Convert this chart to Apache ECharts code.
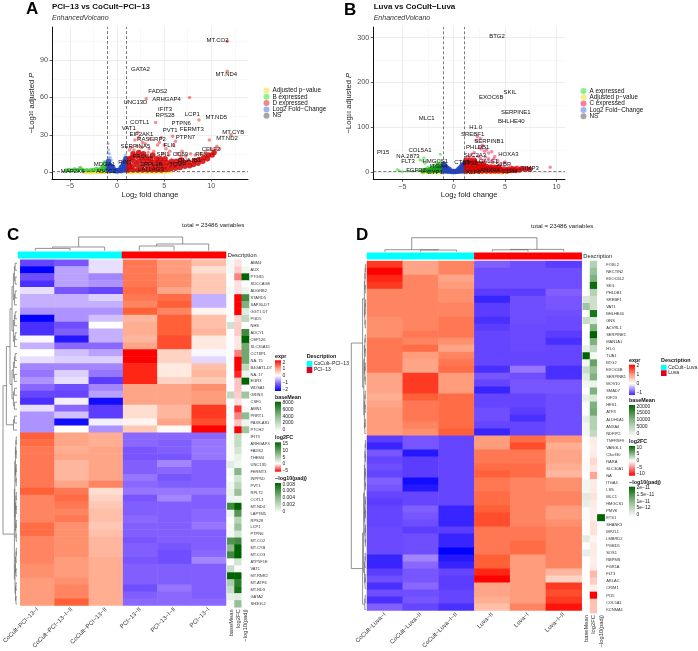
<!DOCTYPE html>
<html><head><meta charset="utf-8">
<style>html,body{margin:0;padding:0;background:#fff}#c{width:698px;height:651px}</style>
<script src="https://cdn.jsdelivr.net/npm/echarts@6/dist/echarts.min.js"></script>
</head><body><div id="c"></div>
<script>
// ---------- volcano A data
const aYellow=[[-3.4,.6],[-3.1,.9],[-2.8,.5],[-2.6,1],[-2.3,.7],[-2.1,1.1],[-1.8,.6],[-1.6,.9],[-1.3,.7],[-1.1,1.1],[1.2,.8],[1.6,.5],[2,1],[2.4,.6],[2.8,1.1],[3.2,.7],[3.6,1],[4,.6],[4.4,1],[4.8,.8],[5.2,1.1],[5.6,1]];
const aGreen=[[-5.4,1.6],[-5.1,2],[-4.8,1.6],[-4.5,2.5],[-4.2,1.8],[-3.9,3.4],[-3.6,1.8],[-3.2,1.9],[-2.8,1.8],[-2.5,2],[-2.2,2.8],[-1.9,2.2],[-1.7,3],[-1.5,5],[-1.4,3.4],[-1.3,8],[-1.2,2.4],[-1.1,4.5],[-1.05,6]];
const aBlueDense=[[-.95,2],[-.95,6],[-.9,9],[-.8,3],[-.8,6],[-.65,2],[-.65,5],[-.5,2],[-.45,4],[-.3,1.8],[-.15,1.6],[0,1.5],[.15,1.6],[.3,1.8],[.4,2],[.45,4],[.55,2],[.6,5],[.7,2.5],[.7,7],[.8,4],[.85,9],[.95,2],[.95,6],[.95,11]];
const aBlueSparse=[[-.95,23],[-.9,18],[-.95,15.5],[-.8,15],[-.7,12],[-.6,10],[-.85,12],[.8,12],[.7,10],[.9,14],[.6,8]];
const aRedDense=[[1.2,2],[1.3,5],[1.2,8],[1.3,11],[1.7,2],[1.6,5],[1.8,9],[1.6,12],[1.7,15],[2.2,2],[2.1,6],[2.3,9],[2.1,13],[2.3,16],[2.7,2],[2.6,5],[2.8,9],[2.6,12],[2.8,15],[3.2,2],[3.1,6],[3.3,9],[3.1,12],[3.7,2],[3.6,5],[3.8,8],[3.6,11],[3.8,14],[4.2,2],[4.1,5],[4.3,8],[4.2,11],[4.7,2],[4.6,5],[4.8,8],[4.6,11],[5.2,2.5],[5.1,5],[5.3,8],[5.1,11],[5.7,3],[5.6,6],[5.8,9],[6.2,3.5],[6.1,6],[6.3,9],[6.7,4],[6.6,7],[6.8,10],[7.2,5],[7.1,8],[7.7,5.5],[7.6,8.5],[8.1,6.5],[8.2,9.5],[8.6,7.5],[8.7,10.5],[9.1,9],[9.2,12],[9.6,11],[9.7,14],[10.1,14],[10.3,16]];
const aRedSparse=[[2.2,32],[3.1,59],[4.1,40],[7.7,60],[8.7,42],[11.7,81],[11.7,105],[9.8,26],[10.6,21],[10.9,19],[12.1,30],[5.9,29],[6.2,25],[4.7,28],[4.3,22],[2.3,28],[3.5,27],[1.9,26],[2.7,24],[5,22],[6,22],[1.3,18],[1.5,20],[2.1,21],[2.6,20],[3,23],[3.4,19],[3.9,17],[4.5,24],[5.2,19],[5.6,17],[6.4,15],[6.9,17],[7.3,13],[7.8,15],[8.3,14],[8.9,15],[9.4,16],[10,19],[4.9,15],[3.3,16],[5.5,14],[6.8,13],[1.8,18],[10.5,18.5]];
const aNS=[[-.8,.5],[-.5,.8],[-.2,.4],[.1,.7],[.4,.5],[.7,.9]];
const aThreshold=1.3;
const aLabels=[['MT.CO2',10.67,106],['GATA2',2.48,82.5],['MT.ND4',11.6,78.5],['FADS2',4.33,64.7],['ARHGAP4',5.25,58.8],['UNC13D',1.95,56.1],['IFIT3',5.1,50.5],['RPS28',5.1,45.7],['LCP1',7.98,46.3],['MT.ND5',10.53,43.9],['COTL1',2.41,40.1],['PTPN6',6.81,39.3],['VAT1',1.24,35.3],['FERMT3',7.94,34.5],['PVT1',5.64,33.5],['MT.CYB',12.34,31.9],['EIF2AK1',2.59,30.3],['PTPN7',7.27,28.4],['MT.ND2',11.67,27.3],['RASGRP2',3.65,26.3],['FLI1',5.57,21.5],['SERPINA5',1.95,20.7],['CELF2',9.97,18.3],['FRCOL',2.73,13.2],['SPI1',4.89,14.5],['CD69',6.74,14.5],['RFK',8.94,14.5],['DNAJB1',7.7,10],['RIN3',.85,8.1],['SPPL2B',3.65,6.8],['MDGA1',-1.35,6.5],['TCMP',6.45,6.8],['MAP2K6',-4.71,1.2],['ABCC2',-1.17,1.2],['LAT',2.8,2.8],['LAG3',4.15,2.8]];
// ---------- volcano B data
const bYellow=[[-3,.6],[-2.5,1],[-2,.5],[-1.5,.8],[1.2,1],[1.7,.5],[2.2,1.5],[2.7,.7],[3.2,1.5],[3.7,.6],[4.2,1.2],[4.7,.8],[5.2,1.2]];
const bGreenDense=[[-2.5,3],[-2.3,6],[-2.1,3],[-2,10],[-1.9,6],[-1.7,3],[-1.7,11],[-1.6,7],[-1.5,15],[-1.4,4],[-1.35,10],[-1.2,6],[-1.2,14],[-1.1,3],[-1.05,9],[-1.05,18],[-3,3],[-2.7,5]];
const bGreenSparse=[[-5.5,6],[-5.3,4],[-5,2],[-3.3,28],[-2.9,32],[-3.1,26],[-1.3,40],[-2.8,20],[-2.5,12],[-2.2,14],[-1.7,22],[-1.3,24],[-4.5,3],[-4,2.5],[-3.5,4]];
const bBlueDense=[[-.95,3],[-.95,10],[-.95,18],[-.8,5],[-.8,13],[-.65,3],[-.65,9],[-.5,3],[-.45,7],[-.3,2.5],[-.15,2],[0,1.8],[.15,2],[.3,2.5],[.45,3],[.5,7],[.65,3],[.65,10],[.8,5],[.8,14],[.95,3],[.95,10],[.95,18]];
const bRedDense=[[1.2,3],[1.3,9],[1.2,15],[1.3,21],[1.2,27],[1.6,3],[1.7,8],[1.6,14],[1.7,20],[1.6,27],[2,3],[2.1,9],[2,15],[2.1,21],[2,26],[2.4,3],[2.5,8],[2.4,13],[2.5,19],[2.8,3],[2.9,8],[2.8,13],[2.9,18],[3.2,3],[3.3,8],[3.2,13],[3.6,3],[3.7,8],[3.6,12],[4,3],[4.1,7],[4,11],[4.4,3],[4.5,7],[4.4,11],[4.8,3],[4.9,7],[5.2,3],[5.3,7],[5.6,4],[5.7,8],[6,4],[6.1,8],[6.4,5],[6.6,8],[7,7],[7.4,7]];
const bRedSparse=[[9.4,11],[5,23],[4.9,21],[4,35],[3.2,50],[3,47],[3.7,46],[2.7,52],[2.2,70],[2.5,55],[2.6,75],[2.3,80],[1.5,35],[1.7,40],[2,44],[2.8,60],[3.4,43],[3.9,30],[4.3,26],[3.4,30],[2.9,27],[3.8,22],[4.9,12],[2.4,36],[1.9,33],[3.1,34],[2.6,32],[3.6,24],[1.3,32],[4.5,18],[5.5,14],[6.2,12],[7.1,10]];
const bNS=[[-.8,1],[-.5,.6],[-.2,.8],[.2,.6],[.5,1],[.8,.7]];
const bThreshold=3;
const bLabels=[['BTG2',4.22,302],['SKIL',5.48,177],['EXOC6B',3.66,166],['SERPINE1',6.04,133.6],['MLC1',-2.63,121],['BHLHE40',5.61,113.5],['H1.0',2.14,99.4],['SREBF1',1.85,83.8],['SERPINB1',3.44,69],['PHLDB1',2.34,54.9],['PI15',-6.88,45.2],['COL5A1',-3.28,48.2],['HOXA3',5.32,39.3],['NA.2873',-4.45,34.8],['SLC2A3',2.07,38.6],['FLT3',-4.45,23.7],['HMGCS1',-1.79,24.5],['CTSD',.84,22.3],['LGALS1',3.21,25],['S1BP',4.83,17.8],['ITGA4',-1.46,12.5],['TIMP3',7.43,8.9],['FGFR2',-3.67,5],['CYP1',-1.82,-.9],['CD44',5.48,2.2],['ETS1',1.59,20],['ANXA4',3.53,5],['KLF6',1.91,.7]];
// ---------- heatmap C
const samplesC=['CoCult−PCI−13−I','CoCult−PCI−13−I−II','CoCult−PCI−13−II','PCI−13−II','PCI−13−I−II','PCI−13−I'];
const groupsC=[0,0,0,1,1,1];
const genesC=['ABM4','AUX','PTGS5','SDCCAG8','ADGRB2','STARD5','SAP30-DT','GGT1 DT','PGD5','NHS','ADCY1','CEP126','SLC35A15','CCT8P1','NA. 75','B4GAT1-DT','NA. 17','EGR3','WDSA1','GRIN3','CSF0','AMN1','PRRT1','PAX8-AS1','PTCH2','IFIT3','ARHGAP4','FADS2','THEM4','UNC13D','FERMT3','INPP5D','PVT1','RPL72','COTL1','MT.ND4','LAPTM5','RPS28','LCP1','PTPN6','MT.CO2','MT.CYB','MT.CO3','ATP5F1E','VAT1','MT.RNR2','MT.ATP6','MT.ND3','GATA2','SH3GL2'];
const heatC=[[-1.4,-1.2,-.2,1.3,1,.6],[-2,-.6,-.2,1.3,1,.3],[-1.3,-.6,-.8,1.3,1.1,.5],[-1.6,-.6,-.7,1.3,1.1,.5],[-.2,-1.2,-1.4,1.4,.9,.5],[-.5,-.5,-.3,1.3,1.4,-.5],[-.5,-.5,-.5,1.2,1.5,-.5],[-.7,-.7,-.7,1.5,1.2,.1],[-2,-.7,-.4,.7,1.5,.6],[-1.6,-1.3,0,.8,1.5,.6],[-1.6,-1.1,-.5,.8,1.5,.7],[-.05,-1.8,-.5,.7,1.6,.2],[-.5,-1,-1,.9,1.6,.2],[0,-.4,-.6,2,.4,-.05],[-.2,-.3,-.3,2,.4,-.25],[-.8,-.8,-.8,1.8,.2,.6],[-.9,-.3,-.9,1.8,.2,.7],[-.7,-.2,-1.5,1.8,.4,.5],[-1,-1.3,-.8,.9,.9,1.1],[-1.4,-1.4,-.6,.9,.9,1],[-1.6,-.1,-1.9,.9,.9,1],[-.2,-1,-1.5,.3,.7,1.7],[-.7,-.4,-1.5,.3,.7,1.7],[-.7,-1.9,-.1,.1,.9,1.6],[-.7,0,-.7,.5,.05,2],
[1.5,.9,.8,-1,-1,-1],[1.4,.9,.8,-1,-1.1,-.9],[1.3,.8,.9,-1.2,-1.1,-.9],[1.3,.9,.9,-1.2,-1.2,-.9],[1.3,.7,.9,-1.1,-.8,-1.1],[1.3,.7,.9,-1.1,-1,-1.1],[1.3,.7,.9,-.9,-1.2,-1.1],[1.3,.9,1.2,-1,-1.1,-1.1],[1.5,1.3,.3,-.9,-.9,-.9],[1.2,1.4,.4,-1.2,-.8,-1.1],[1.2,1.3,.5,-1.1,-1.1,-1.1],[1.2,1.2,.6,-1.1,-1.1,-1],[1.2,1.3,.6,-1,-1.1,-1],[1.4,1.1,.5,-1.1,-1.1,-.9],[1.4,1.1,.6,-1.1,-1.1,-1.1],[1.2,1.1,.7,-1.2,-1.1,-1.1],[1.2,1.1,.7,-1.1,-1.2,-1.1],[1.2,1.1,.7,-1.1,-1.3,-1],[1.2,1,.8,-1.2,-1.3,-.8],[1.1,1,.8,-1.1,-1.1,-1.1],[1.1,1,.8,-1.1,-1.1,-1.1],[1,1.1,.8,-1.1,-1.1,-1.1],[1,1.2,.8,-1.3,-.9,-1.1],[1,1.2,.8,-1.1,-1,-1.1],[1,1.5,.8,-1,-1,-1]];
const baseMeanC=[300,300,100,100,300,100,100,100,100,1500,100,100,100,100,100,100,100,100,100,2000,100,100,100,100,100,200,200,200,200,1000,200,100,400,600,500,6000,500,0,200,300,5500,3500,6000,0,1800,8000,2600,1800,800,200];
const log2FCC=[-.6,-1,-2.5,-.6,-.6,-5,-5,-5,-.8,-1,-1,-.5,-.5,-2.5,-5,-5,-4.3,-1.2,-1.2,-1,-.6,-4,-2.5,-1.2,-5,4,4,3,1.5,1,8,3,4.5,7,1,15,11,5,7,3,12,15,15,3,.5,15,13,14,2,7];
const padjC=[0,.0004,.008,0,.0006,.006,.004,.001,.002,0,.006,.008,.0045,.0045,.0045,.002,.0005,.008,0,.003,0,.0003,.0035,.0005,.003,0,0,0,0,0,0,0,0,0,0,0,0,0,0,0,0,0,0,0,0,0,0,0,0,0];
// ---------- heatmap D
const samplesD=['CoCult−Luva−I','CoCult−Luva−II','CoCult−Luva−I−II','Luva−II','Luva−I','Luva−I−II'];
const groupsD=[0,0,0,1,1,1];
const genesD=['FOSL2','NECTIN2','EXOC6L2','SKIL','PHLDB1','SREBF1','VAT1','BHLHE40','GNS','ACVRL1','SERPINE1','MAN1A1','H1.0','TUA1','BTG2','EXOC6B','SERPINB1','MOV10','SMAD7','KIF23','HES1','ATF3','ALDH1A1','ANXA4','NDFIP2','TNFRSF9','VANGL1','C3orf30','RARA','SLC30A1','NA','ITGA4','LSS','MLC1','HMGCS1','PMVK','ETS1','SHANK3','MPZL1','LMBRD2','PGBD5','SOS1','RBPMS','FGR1A','FLT3','ARLAC','CRIM1','PI15','COL5A1','KCNMA1'];
const heatD=[[1.7,.9,1.2,-1.1,-1.3,-1.5],[2,.9,1.2,-1.3,-1.3,-1.3],[1.8,1.2,.9,-1.3,-1.3,-1.3],[1.7,1.2,1,-1.3,-1.3,-1.3],[1.2,1.2,1.1,-1.5,-1.5,-1.1],[1.2,1.2,1.1,-1.7,-1.3,-1.2],[1.2,1.2,1.2,-1.5,-1.3,-1.2],[1.2,1.2,1.2,-1.5,-1.3,-1.3],[1.1,1.2,1.3,-1.6,-1.3,-1.35],[1.1,1.2,1.3,-1.5,-1.35,-1.35],[1.1,1.3,1.3,-1.4,-1.35,-1.5],[1.3,1.2,1.1,-1.4,-1.35,-1.6],[1.3,1.4,.9,-1.4,-1.35,-1.4],[1.3,1,1.2,-1.4,-1.4,-1.4],[1.3,.9,1.3,-1.4,-1.4,-1.4],[1.3,.9,1.4,-1.6,-.9,-1.6],[.9,1.7,1,-1.2,-1.3,-1.6],[.9,1.7,1,-1.4,-1.2,-1.2],[.9,1.7,1,-1.7,-1.2,-1.2],[.8,1.5,1.4,-1.4,-1.4,-1.3],[.9,1.3,1.4,-1.4,-1.4,-1.3],[1,1.3,1.4,-1.3,-1.5,-1.3],[1,1.3,1.4,-1.3,-1.6,-1.3],[1,1.2,1.4,-1.4,-1.4,-1.3],[1,1.1,1.5,-1.7,-1.4,-1.3],
[-1.5,-1.2,-1.4,1,1.4,1.05],[-1.7,-1.2,-1.4,1,1.6,.8],[-1.2,-1.8,-1.4,1.3,1.3,.9],[-1.4,-1.5,-1.4,1.3,1.3,.9],[-1.3,-1.5,-1.4,1.4,1.4,.8],[-1.4,-1.5,-1.4,1.5,1.4,.7],[-1.1,-1.9,-1.4,1.3,1.2,1.1],[-1.2,-1.8,-1.4,1.3,1.2,1.1],[-1.4,-1.4,-1.4,1.4,1.2,1.2],[-1.5,-1.4,-1.4,1.4,1.2,1.2],[-1.4,-1.1,-1.7,1.5,1.2,1],[-1.4,-1.2,-1.7,1.6,1.2,1],[-1.4,-1.3,-1.7,1.6,1.2,1.1],[-1.35,-1.5,-1.5,1.3,1.3,1.2],[-1.35,-1.3,-1.7,1.3,1.3,1.2],[-1.35,-1.3,-1.7,1.3,1.4,1.2],[-1.35,-1.3,-2,1.3,1.4,1.2],[-1.7,-.8,-1.8,1.5,1,1.2],[-1.7,-1,-1.7,1.5,1,1.2],[-1.5,-1.2,-1.4,1.8,1,.7],[-1.3,-1.2,-1.5,2,1,.4],[-1.6,-1,-1.5,.9,1,1.7],[-1.3,-1.3,-1.4,.9,1,1.6],[-1.6,-1.2,-1.4,.8,1,1.7],[-1.1,-1.4,-1.6,.6,1.2,1.9]];
const baseMeanD=[0,0,0,0,0,3000,7500,0,4500,0,0,0,2000,20000,1000,4500,2500,1000,0,2000,500,0,2000,1000,1000,0,0,0,500,500,0,1000,1000,2500,2000,500,500,0,0,2500,0,2000,0,0,0,0,0,0,0,0];
const log2FCD=[3,4,5,9.5,3,2,2,9,1.5,5,10,5,2.5,.3,6,4,5,.8,5,1.5,5,5.5,3,3,2.5,-1,-.8,-1,-2,-1.2,-4.5,-1,-1,-1.5,-1,-.8,-.8,-1.5,-1.5,-.5,-1,-1,-.8,-1,-3.5,-2.5,-.8,-10,-3,-3];
const padjD=[0,0,0,0,0,0,0,0,0,0,0,0,0,0,0,0,0,0,0,0,0,0,0,0,0,0,0,0,0,0,0,0,0,0,0,0,2e-11,0,0,0,0,0,0,0,0,0,0,0,0,0];
const annNames=['baseMean','log2FC','−log10(padj)'];
// ---------- dendrograms: [height, left, right]; a number is a leaf
const colTreeC=[13.7,[3.7,[2.3,0,1],2],[6.7,[4.7,3,4],5]];
const colTreeD=[14,[2,0,[1.7,1,2]],[2.3,[1.9,3,4],5]];
const NUM_ROWS=50;
function bal(lo,hi,h){ if(lo===hi) return lo; const m=(lo+hi)>>1; return [h,bal(lo,m,h*.72),bal(m+1,hi,h*.72)]; }
const rowTreeC=[14,[10.6,[7,bal(0,12,5),bal(13,21,5)],bal(22,24,3.5)],[2.6,bal(25,40,2.2),bal(41,49,2)]];
const rowTreeD=[14.7,[3.4,bal(0,9,1.6),bal(10,24,2.2)],[3.4,[2.4,bal(25,40,1.6),bal(41,46,1.4)],bal(47,49,1.2)]];

const FONT='Liberation Sans';
const HEAT_COLORS=['#0000ff','#5c3cff','#8a68ff','#c5b0ff','#ffffff','#ffc8b4','#ff9c7c','#ff6038','#ff0000'];
const COL={yellow:'#f4e54a',green:'#22c522',red:'#d40000',blue:'#2244c4',gray:'#888888'};
const grid=[],xAxis=[],yAxis=[],series=[],visualMap=[],legend=[],graphic=[];
const fmtNum=v=>String(v).replace('-','−');

function addText(x,y,text,size,extra){graphic.push({type:'text',x,y,silent:true,style:Object.assign({text,fontFamily:FONT,fontSize:size,fill:'#111',verticalAlign:'middle',align:'left'},extra||{})});}

function volcano(c){
  const gi=grid.length;
  grid.push({left:c.left,top:c.top,width:c.w,height:c.h});
  const xi=xAxis.length, yi=yAxis.length;
  const axisCommon={axisLine:{show:true,onZero:false,lineStyle:{color:'#111',width:1}},axisTick:{show:true,length:2.5,lineStyle:{color:'#333',width:.8}},splitLine:{show:true,lineStyle:{color:'#e8e8e8',width:.8}}};
  xAxis.push(Object.assign({gridIndex:gi,type:'value',min:c.xr[0],max:c.xr[1],position:'bottom',name:'{t|Log}{s|2}{t| fold change}',nameLocation:'middle',nameGap:10.5,nameTextStyle:{rich:{t:{fontFamily:FONT,fontSize:7.6,color:'#222'},s:{fontFamily:FONT,fontSize:5,color:'#222',verticalAlign:'bottom',padding:[3,0,0,0]}}},axisLabel:{customValues:c.xt,formatter:fmtNum,fontFamily:FONT,fontSize:7.2,color:'#4d4d4d',margin:4}},axisCommon,{axisTick:Object.assign({},axisCommon.axisTick,{customValues:c.xt})}));
  yAxis.push(Object.assign({gridIndex:gi,type:'value',min:c.yr[0],max:c.yr[1],position:'left',name:'{t|−Log}{s|10}{t| adjusted }{i|P}',nameLocation:'middle',nameGap:c.yGap,nameRotate:90,nameTextStyle:{rich:{t:{fontFamily:FONT,fontSize:7.6,color:'#222'},s:{fontFamily:FONT,fontSize:5,color:'#222'},i:{fontFamily:FONT,fontSize:7.6,fontStyle:'italic',color:'#222'}}},axisLabel:{customValues:c.yt,formatter:fmtNum,fontFamily:FONT,fontSize:7.2,color:'#4d4d4d',margin:4}},axisCommon,{axisTick:Object.assign({},axisCommon.axisTick,{customValues:c.yt})}));
  // minor grid axes
  const hidden={axisLine:{show:false},axisLabel:{show:false},splitLine:{show:true,lineStyle:{color:'#f1f1f1',width:.5}}};
  xAxis.push(Object.assign({gridIndex:gi,type:'value',min:c.xr[0],max:c.xr[1],position:'top',axisTick:{show:false,customValues:c.xm}},hidden));
  yAxis.push(Object.assign({gridIndex:gi,type:'value',min:c.yr[0],max:c.yr[1],position:'right',axisTick:{show:false,customValues:c.ym}},hidden));
  const base={type:'scatter',xAxisIndex:xi,yAxisIndex:yi,silent:true,clip:true};
  for(const s of c.layers){
    const it={...base,name:s.name,data:s.data,symbolSize:s.size,itemStyle:{color:s.color,opacity:s.op},z:s.z||3};
    series.push(it);
  }
  series.push({type:'scatter',name:'_thr',xAxisIndex:xi,yAxisIndex:yi,data:[],symbolSize:0,silent:true,z:4,
    markLine:{silent:true,symbol:'none',label:{show:false},animation:false,lineStyle:{type:[3,2],color:'#444',width:.7},data:[{xAxis:-1},{xAxis:1},{yAxis:c.thr}]}});
  series.push({type:'scatter',name:'_lab',xAxisIndex:xi,yAxisIndex:yi,silent:true,z:6,symbolSize:1,itemStyle:{color:'rgba(0,0,0,0)'},
    data:c.labels.map(l=>({value:[l[1],l[2]],name:l[0]})),labelLayout:{hideOverlap:false},
    label:{show:true,position:'inside',formatter:p=>p.name,fontFamily:FONT,fontSize:6,color:'#111',opacity:1}});
  legend.push({orient:'vertical',left:c.legLeft,top:c.legTop,itemWidth:6,itemHeight:6,itemGap:.3,icon:'circle',selectedMode:false,padding:0,
    textStyle:{fontFamily:FONT,fontSize:6.3,color:'#111',padding:[0,0,0,-2],lineHeight:6},
    data:c.leg.map(l=>({name:l[0],icon:'circle',itemStyle:{color:l[1],opacity:1}}))});
}

function collectTree(tree,seg,hvFn){
  if(typeof tree==='number') return {p:tree+.5,h:0};
  const a=collectTree(tree[1],seg,hvFn), b=collectTree(tree[2],seg,hvFn), h=tree[0];
  hvFn(seg,a,b,h);
  return {p:(a.p+b.p)/2,h};
}
const renderSeg=(stroke)=>(p,api)=>{const a=api.coord([api.value(0),api.value(1)]),b=api.coord([api.value(2),api.value(3)]);return {type:'line',shape:{x1:a[0],y1:a[1],x2:b[0],y2:b[1]},style:{stroke,lineWidth:.7}};};

function heatPanel(c){
  const rows=c.genes.length;
  // heat main
  let gi=grid.length;
  grid.push({left:c.left,top:c.top,width:c.w,height:c.h});
  xAxis.push({gridIndex:gi,type:'category',data:c.samples,axisLine:{show:false},axisTick:{show:false},splitLine:{show:false},
    axisLabel:{interval:0,rotate:45,fontFamily:FONT,fontSize:6,color:'#333',margin:3,hideOverlap:false}});
  yAxis.push({gridIndex:gi,type:'category',inverse:true,data:c.genes,axisLine:{show:false},axisTick:{show:false},axisLabel:{show:false},splitLine:{show:false}});
  const data=[];c.heat.forEach((r,i)=>r.forEach((v,j)=>data.push([j,i,v])));
  let si=series.length;
  series.push({type:'heatmap',name:c.id+' expr',xAxisIndex:xAxis.length-1,yAxisIndex:yAxis.length-1,data,silent:true,progressive:0});
  visualMap.push({show:false,seriesIndex:si,dimension:2,min:-2,max:2,inRange:{color:HEAT_COLORS}});
  // group bar
  gi=grid.length;
  grid.push({left:c.left,top:c.barTop,width:c.w,height:c.barH});
  xAxis.push({gridIndex:gi,type:'category',data:c.samples,show:false});
  yAxis.push({gridIndex:gi,type:'category',data:['Description'],show:false});
  si=series.length;
  series.push({type:'heatmap',name:c.id+' group',xAxisIndex:xAxis.length-1,yAxisIndex:yAxis.length-1,data:c.groups.map((g,j)=>[j,0,g]),silent:true,progressive:0});
  visualMap.push({show:false,seriesIndex:si,dimension:2,min:0,max:1,inRange:{color:['#00ffff','#ff0000']}});
  // annotation
  gi=grid.length;
  grid.push({left:c.annLeft,top:c.top,width:c.annW,height:c.h});
  xAxis.push({gridIndex:gi,type:'category',data:annNames,axisLine:{show:false},axisTick:{show:false},
    axisLabel:{interval:0,rotate:90,fontFamily:FONT,fontSize:5.8,color:'#333',margin:2,hideOverlap:false}});
  yAxis.push({gridIndex:gi,type:'category',inverse:true,data:c.genes,position:'right',axisLine:{show:false},axisTick:{show:false},splitLine:{show:false},
    axisLabel:{interval:0,fontFamily:FONT,fontSize:4,color:'#333',margin:c.geneMargin,align:'left',hideOverlap:false}});
  const xa=xAxis.length-1,ya=yAxis.length-1;
  [[c.baseMean,0,c.bmMax,['#ffffff','#006400'],-1,0],[c.lfc,1,null,c.lfcColors,c.lfcMin,c.lfcMax],[c.padj,2,c.padjMax,['#ffffff','#006400'],-1,0]].forEach(a=>{
    si=series.length;
    series.push({type:'heatmap',name:c.id+' '+annNames[a[1]],xAxisIndex:xa,yAxisIndex:ya,data:a[0].map((v,i)=>[a[1],i,v]),silent:true,progressive:0,
      itemStyle:{borderColor:'#fff',borderWidth:0}});
    if(a[1]===1) visualMap.push({show:false,seriesIndex:si,dimension:2,min:a[4],max:a[5],inRange:{color:a[3]}});
    else visualMap.push({show:false,seriesIndex:si,dimension:2,min:0,max:a[2],inRange:{color:a[3]}});
  });
  // column dendrogram
  gi=grid.length;
  const H=c.colTree[0]+.001;
  grid.push({left:c.left,top:c.barTop-1-H,width:c.w,height:H});
  xAxis.push({gridIndex:gi,type:'value',min:0,max:6,show:false});
  yAxis.push({gridIndex:gi,type:'value',min:0,max:H,show:false});
  const cs=[];
  collectTree(c.colTree,cs,(seg,a,b,h)=>{seg.push([a.p,a.h,a.p,h],[b.p,b.h,b.p,h],[a.p,h,b.p,h]);});
  series.push({type:'custom',name:c.id+' col tree',xAxisIndex:xAxis.length-1,yAxisIndex:yAxis.length-1,data:cs,renderItem:renderSeg('#666'),encode:{x:[0,2],y:[1,3]},silent:true,clip:false});
  // row dendrogram
  gi=grid.length;
  const RH=c.rowTree[0]+.001;
  grid.push({left:c.left-1-RH,top:c.top,width:RH,height:c.h});
  xAxis.push({gridIndex:gi,type:'value',min:0,max:RH,inverse:true,show:false});
  yAxis.push({gridIndex:gi,type:'value',min:0,max:NUM_ROWS,inverse:true,show:false});
  const rs=[];
  collectTree(c.rowTree,rs,(seg,a,b,h)=>{seg.push([a.h,a.p,h,a.p],[b.h,b.p,h,b.p],[h,a.p,h,b.p]);});
  series.push({type:'custom',name:c.id+' row tree',xAxisIndex:xAxis.length-1,yAxisIndex:yAxis.length-1,data:rs,renderItem:renderSeg('#666'),encode:{x:[0,2],y:[1,3]},silent:true,clip:false});
  // legends
  const L=c.leg;
  L.bars.forEach(b=>{
    addText(L.x,b.ty,b.title,5.4,{fontWeight:'bold'});
    graphic.push({type:'rect',silent:true,shape:{x:L.x,y:b.y0,width:6,height:b.y1-b.y0},style:{fill:{type:'linear',x:0,y:0,x2:0,y2:1,colorStops:b.stops}}});
    b.ticks.forEach(t=>addText(L.x+7.4,t[1],t[0],5,{fill:'#222'}));
  });
  addText(L.dx,L.dy,'Description',5.4,{fontWeight:'bold'});
  L.sw.forEach(s=>{
    graphic.push({type:'rect',silent:true,shape:{x:L.dx,y:s.y0,width:5.6,height:s.y1-s.y0},style:{fill:s.color}});
    addText(L.dx+7.2,s.ty,s.text,5,{fill:'#222'});
  });
}
const exprStops=[{offset:0,color:'#ff0000'},{offset:.25,color:'#ff9c7c'},{offset:.5,color:'#ffffff'},{offset:.75,color:'#8866ff'},{offset:1,color:'#0000ff'}];
const greenStops=[{offset:0,color:'#006400'},{offset:.5,color:'#8fbc8f'},{offset:1,color:'#ffffff'}];

volcano({left:52,top:27,w:196,h:152,xr:[-6.9,13.9],yr:[-5.2,116.4],xt:[-5,0,5,10],yt:[0,30,60,90],xm:[-2.5,2.5,7.5,12.5],ym:[15,45,75,105],yGap:16,thr:aThreshold,
  layers:[{name:'NS',data:aNS,size:4,color:COL.gray,op:.6},{name:'Adjusted p−value',data:aYellow,size:5,color:COL.yellow,op:.9},{name:'B expressed',data:aGreen,size:4.5,color:COL.green,op:.7},{name:'Log2 Fold−Change',data:aBlueSparse,size:3,color:'#8fa8ee',op:.7},{name:'Log2 Fold−Change',data:aBlueDense,size:5.5,color:COL.blue,op:.85},{name:'D expressed',data:aRedDense,size:5.5,color:COL.red,op:.85},{name:'D expressed',data:aRedSparse,size:3.5,color:'#f03030',op:.55}],
  labels:aLabels,legLeft:263.5,legTop:87.5,leg:[['Adjusted p−value','#f7ee8c'],['B expressed','#8cf58c'],['D expressed','#f08888'],['Log2 Fold−Change','#9fb4ee'],['NS','#a6a6a6']]});
volcano({left:373.3,top:27,w:191.7,h:152.3,xr:[-7.83,10.84],yr:[-15.6,323.6],xt:[-5,0,5,10],yt:[0,100,200,300],xm:[-2.5,2.5,7.5],ym:[50,150,250],yGap:20,thr:bThreshold,
  layers:[{name:'NS',data:bNS,size:4,color:COL.gray,op:.6},{name:'Adjusted p−value',data:bYellow,size:5,color:COL.yellow,op:.9},{name:'A expressed',data:bGreenSparse,size:3,color:'#55dd55',op:.7},{name:'A expressed',data:bGreenDense,size:5,color:'#15a015',op:.85},{name:'Log2 Fold−Change',data:bBlueDense,size:5.5,color:COL.blue,op:.85},{name:'C expressed',data:bRedDense,size:5.5,color:COL.red,op:.85},{name:'C expressed',data:bRedSparse,size:3.5,color:'#f03060',op:.55}],
  labels:bLabels,legLeft:580.5,legTop:88,leg:[['A expressed','#8cf08c'],['Adjusted p−value','#f7ee8c'],['C expressed','#f4809a'],['Log2 Fold−Change','#9fb4ee'],['NS','#a6a6a6']]});

heatPanel({id:'C',left:18,top:259.7,w:208,h:347.6,barTop:251.7,barH:6.6,annLeft:227.3,annW:21.7,geneMargin:1.5,samples:samplesC,groups:groupsC,genes:genesC,heat:heatC,baseMean:baseMeanC,lfc:log2FCC,padj:padjC,bmMax:8000,padjMax:.008,lfcMin:-5,lfcMax:15,lfcColors:['#ff0000','#ffffff','#b5d3b5','#6ea36e','#006400'],colTree:colTreeC,rowTree:rowTreeC,
 leg:{x:275,dx:306.7,dy:356.7,bars:[
  {title:'expr',ty:356.7,y0:360.3,y1:391,stops:exprStops,ticks:[['2',362.3],['1',369],['0',376],['−1',382.7],['−2',389.3]]},
  {title:'baseMean',ty:397.3,y0:401.7,y1:431,stops:greenStops,ticks:[['8000',403],['6000',409.7],['4000',416.3],['2000',423],['0',430]]},
  {title:'log2FC',ty:438,y0:442.3,y1:471.7,stops:[{offset:0,color:'#006400'},{offset:.73,color:'#ffffff'},{offset:1,color:'#ff0000'}],ticks:[['15',444],['10',450.7],['5',457.3],['0',464],['−5',470.7]]},
  {title:'−log10(padj)',ty:478.7,y0:483,y1:513,stops:greenStops,ticks:[['0.008',484.3],['0.006',491],['0.004',497.7],['0.002',504.3],['0',511.3]]}],
  sw:[{y0:361,y1:367,color:'#00ffff',text:'CoCult−PCI−13',ty:364},{y0:367,y1:373,color:'#e00020',text:'PCI−13',ty:370}]}});
heatPanel({id:'D',left:367,top:261,w:214.7,h:352,barTop:252.7,barH:6.6,annLeft:582.7,annW:22,geneMargin:1.5,samples:samplesD,groups:groupsD,genes:genesD,heat:heatD,baseMean:baseMeanD,lfc:log2FCD,padj:padjD,bmMax:20000,padjMax:2e-11,lfcMin:-10,lfcMax:10,lfcColors:['#ff0000','#ff9a84','#ffffff','#80b280','#006400'],colTree:colTreeD,rowTree:rowTreeD,
 leg:{x:629,dx:661,dy:360.7,bars:[
  {title:'expr',ty:360.7,y0:364.7,y1:395,stops:[{offset:0,color:'#ff0000'},{offset:.33,color:'#ff9c7c'},{offset:.62,color:'#ffffff'},{offset:.88,color:'#8866ff'},{offset:1,color:'#4422ff'}],ticks:[['2',366],['1',374.7],['0',384],['−1',392.7]]},
  {title:'baseMean',ty:400.7,y0:405,y1:436.7,stops:greenStops,ticks:[['20000',406.3],['15000',413],['10000',420],['5000',426.7],['0',433.3]]},
  {title:'log2FC',ty:441.7,y0:446,y1:475.7,stops:[{offset:0,color:'#006400'},{offset:.5,color:'#ffffff'},{offset:1,color:'#ff0000'}],ticks:[['10',447.3],['5',454],['0',460.7],['−5',467.3],['−10',474]]},
  {title:'−log10(padj)',ty:482.3,y0:486.7,y1:517,stops:greenStops,ticks:[['2e−11',487.7],['1.5e−11',494.7],['1e−11',501.3],['5e−12',508],['0',515]]}],
  sw:[{y0:365,y1:370.3,color:'#00ffff',text:'CoCult−Luva',ty:367.7},{y0:370.3,y1:376,color:'#e00020',text:'Luva',ty:373}]}});

// panel titles
addText(26,9.5,'A',17,{fontWeight:'bold',fill:'#000'});
addText(344,10,'B',17,{fontWeight:'bold',fill:'#000'});
addText(7,235,'C',17,{fontWeight:'bold',fill:'#000'});
addText(356,235,'D',17,{fontWeight:'bold',fill:'#000'});
addText(52,6.3,'PCI−13 vs CoCult−PCI−13',8,{fontWeight:'bold'});
addText(52,18,'EnhancedVolcano',7,{fontStyle:'italic',fill:'#333'});
addText(373.7,6.5,'Luva vs CoCult−Luva',8,{fontWeight:'bold'});
addText(373.7,18.5,'EnhancedVolcano',7,{fontStyle:'italic',fill:'#333'});
addText(182,225.7,'total = 23486 variables',6.2,{fill:'#222'});
addText(531,226,'total = 23486 variables',6.2,{fill:'#222'});
addText(227.7,255,'Description',5.8,{fill:'#222'});
addText(583.3,256.3,'Description',5.8,{fill:'#222'});

const chart=echarts.init(document.getElementById('c'),null,{renderer:'canvas'});
chart.setOption({animation:false,backgroundColor:'#fff',grid,xAxis,yAxis,series,visualMap,legend,graphic:{elements:graphic}});
</script></body></html>
